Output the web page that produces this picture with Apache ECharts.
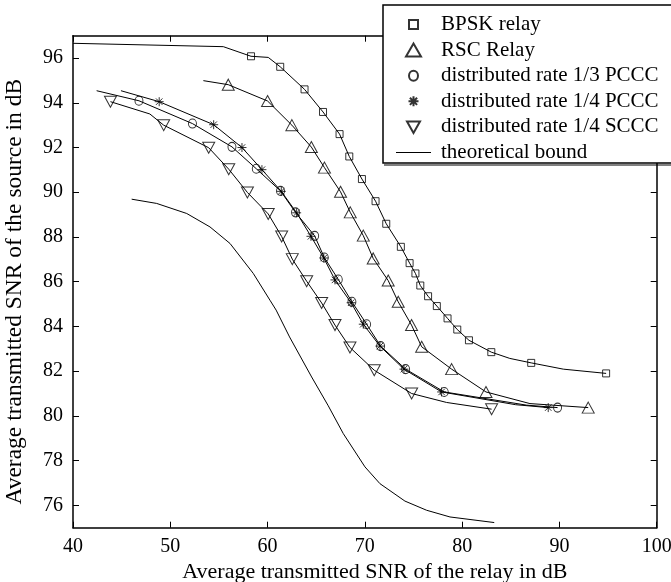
<!DOCTYPE html>
<html><head><meta charset="utf-8">
<script src="https://cdn.jsdelivr.net/npm/echarts@6/dist/echarts.min.js"></script>
<style>html,body{margin:0;padding:0;background:#fff}#c{width:671px;height:582px}</style>
</head><body><div id="c"></div>
<script>
const xTicks = [40, 50, 60, 70, 80, 90, 100];
const yTicks = [76, 78, 80, 82, 84, 86, 88, 90, 92, 94, 96];
const seriesNames = ['BPSK relay', 'RSC Relay', 'distributed rate 1/3 PCCC', 'distributed rate 1/4 PCCC', 'distributed rate 1/4 SCCC', 'theoretical bound'];

// marker points [x, y]
const bpskMarks = [[58.3,96.08],[61.3,95.61],[63.8,94.6],[65.7,93.59],[67.4,92.6],[68.4,91.6],[69.7,90.59],[71.1,89.6],[72.2,88.59],[73.7,87.56],[74.6,86.83],[75.2,86.37],[75.7,85.83],[76.5,85.35],[77.4,84.91],[78.5,84.36],[79.5,83.86],[80.7,83.38],[83.0,82.85],[87.1,82.37],[94.8,81.9]];
const rscMarks = [[55.96,94.81],[60.0,94.08],[62.5,93.0],[64.5,92.02],[65.85,91.1],[67.5,90.02],[68.5,89.1],[69.84,88.06],[70.86,87.04],[72.4,86.05],[73.43,85.1],[74.8,84.06],[75.84,83.09],[78.92,82.09],[82.45,81.07],[92.96,80.37]];
const pccc3Marks = [[46.78,94.09],[52.28,93.07],[56.34,92.03],[58.84,91.05],[61.33,90.06],[62.87,89.1],[64.84,88.05],[65.83,87.08],[67.27,86.1],[68.67,85.1],[70.18,84.1],[71.62,83.12],[74.19,82.09],[78.16,81.07],[89.81,80.37]];
const pccc4Marks = [[48.86,94.05],[54.46,93.02],[57.37,92.0],[59.42,91.01],[61.41,90.04],[62.99,89.08],[64.46,88.03],[65.78,87.06],[66.93,86.08],[68.59,85.06],[69.84,84.1],[71.55,83.12],[74.02,82.09],[77.89,81.07],[88.85,80.37]];
const scccMarks = [[43.85,94.05],[49.32,93.0],[53.95,91.99],[56.01,91.03],[57.93,89.99],[60.07,89.03],[61.45,88.02],[62.54,87.01],[64.02,86.02],[65.56,85.05],[66.93,84.06],[68.47,83.06],[70.97,82.04],[74.81,81.0],[83.03,80.3]];

// additional unmarked line vertices [x, y]
const bpskExtra = [[40,96.66],[55.45,96.51],[60.07,96.03],[84.9,82.57],[90.4,82.09]];
const rscExtra = [[53.4,94.99],[86.97,80.55]];
const pccc3Extra = [[42.43,94.54],[86.63,80.48]];
const pccc4Extra = [[44.93,94.54],[85.5,80.5]];
const scccExtra = [[47.9,93.5],[78.4,80.6]];

const boundLine = [[46.03,89.69],[48.6,89.5],[51.69,89.05],[54.08,88.45],[56.14,87.71],[58.53,86.37],[60.25,85.17],[60.88,84.73],[62.26,83.53],[64.53,81.74],[66.24,80.45],[67.78,79.21],[70.01,77.72],[71.55,76.97],[74.12,76.19],[76.35,75.78],[78.75,75.48],[83.3,75.23]];

const FONT = 'Liberation Serif';
const STAR = 'path://M0,-1L0,1M-1,0L1,0M-0.72,-0.72L0.72,0.72M-0.72,0.72L0.72,-0.72';

// legend icons drawn inside a 35x14 box (padding moves fix the box)
const BOX = 'M-17.5,-7M17.5,7';
const legendIcons = [
  'path://' + BOX + 'M-4.5,-4.5L4.5,-4.5L4.5,4.5L-4.5,4.5Z',
  'path://' + BOX + 'M0,-6.5L7.5,6.5L-7.5,6.5Z',
  'path://' + BOX + 'M4.5,0A4.5,5 0 1 1 -4.5,0A4.5,5 0 1 1 4.5,0Z',
  'path://' + BOX + 'M0,-5L0,5M-5,0L5,0M-3.6,-3.6L3.6,3.6M-3.6,3.6L3.6,-3.6',
  'path://' + BOX + 'M-6.5,-5.5L6.5,-5.5L0,6Z',
  'path://' + BOX + 'M-17.5,-0.5L17.5,-0.5L17.5,0.5L-17.5,0.5Z'
];

function lineOf(marks, extra) {
  return marks.concat(extra).slice().sort((a, b) => a[0] - b[0]);
}
const groups = [
  {marks: bpskMarks, extra: bpskExtra, symbol: 'rect', size: 7, rot: 0},
  {marks: rscMarks, extra: rscExtra, symbol: 'triangle', size: [12, 11], rot: 0},
  {marks: pccc3Marks, extra: pccc3Extra, symbol: 'circle', size: [8, 9], rot: 0},
  {marks: pccc4Marks, extra: pccc4Extra, symbol: STAR, size: 9, rot: 0},
  {marks: scccMarks, extra: scccExtra, symbol: 'triangle', size: [12, 11], rot: 180}
];

const series = [];
groups.forEach((g) => {
  series.push({
    type: 'line', data: lineOf(g.marks, g.extra), symbol: 'none', silent: true,
    lineStyle: {color: '#000', width: 1}, z: 2, animation: false
  });
});
groups.forEach((g, i) => {
  series.push({
    type: 'scatter', name: seriesNames[i], data: g.marks, symbol: g.symbol, symbolSize: g.size,
    symbolRotate: g.rot, silent: true, z: 3, animation: false,
    itemStyle: {color: 'transparent', borderColor: '#000', borderWidth: 1}
  });
});
series.push({
  type: 'line', name: seriesNames[5], data: boundLine, symbol: 'none', silent: true,
  itemStyle: {color: '#000'},
  lineStyle: {color: '#000', width: 1}, z: 2, animation: false
});

const axisLine = {show: true, onZero: false, lineStyle: {color: '#000', width: 1.5}};
const tick = {inside: true, length: 6, lineStyle: {color: '#000', width: 1}};
const lbl = {color: '#000', fontFamily: FONT, fontSize: 20, margin: 9};

const option = {
  animation: false,
  backgroundColor: '#fff',
  grid: {left: 73, right: 14.3, top: 35.7, bottom: 54.3, containLabel: false, outerBoundsMode: 'none'},
  xAxis: [
    {type: 'value', min: 40, max: 100, interval: 10, position: 'bottom', axisLine: axisLine,
     axisTick: tick, axisLabel: lbl, splitLine: {show: false},
     name: 'Average transmitted SNR of the relay in dB', nameLocation: 'middle', nameGap: 24,
     nameTextStyle: {color: '#000', fontFamily: FONT, fontSize: 22, padding: [0, 0, 0, 20]}},
    {type: 'value', min: 40, max: 100, interval: 10, position: 'top', axisLine: axisLine,
     axisTick: tick, axisLabel: {show: false}, splitLine: {show: false}}
  ],
  yAxis: [
    {type: 'value', min: 75, max: 97, position: 'left', axisLine: axisLine,
     axisTick: Object.assign({customValues: yTicks}, tick),
     axisLabel: Object.assign({customValues: yTicks}, lbl, {margin: 10}), splitLine: {show: false},
     name: 'Average transmitted SNR of the source in dB', nameLocation: 'middle', nameGap: 46,
     nameTextStyle: {color: '#000', fontFamily: FONT, fontSize: 23.5, padding: [0, 20, 0, 0]}},
    {type: 'value', min: 75, max: 97, position: 'right', axisLine: axisLine,
     axisTick: Object.assign({customValues: yTicks}, tick),
     axisLabel: {show: false}, splitLine: {show: false}}
  ],
  legend: {
    orient: 'vertical', left: 383, top: 5, padding: [9, 60, 0, 12],
    itemWidth: 35, itemHeight: 14, itemGap: 4.6,
    backgroundColor: '#fff', borderColor: '#000', borderWidth: 1.5, borderRadius: 0,
    selectedMode: false,
    textStyle: {fontFamily: FONT, fontSize: 21, color: '#000', lineHeight: 20, padding: [0, 0, 0, 5]},
    data: seriesNames.map((n, i) => ({name: n, icon: legendIcons[i]}))
  },
  graphic: [
    {type: 'line', z: 100, shape: {x1: 384, y1: 165, x2: 671, y2: 165}, style: {stroke: '#000', lineWidth: 1}}
  ],
  series: series
};
const chart = echarts.init(document.getElementById('c'), null, {renderer: 'canvas'});
chart.setOption(option);
</script></body></html>
